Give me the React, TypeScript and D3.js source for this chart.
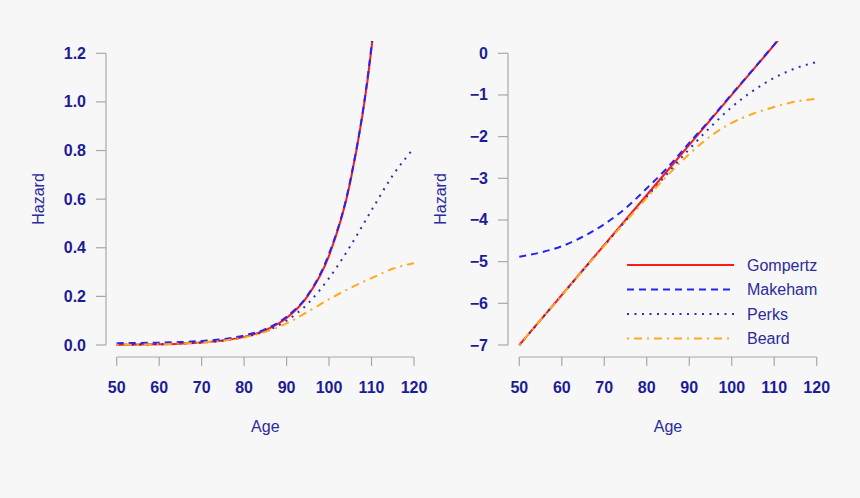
import React from "react";
import * as d3 from "d3";

// Ages (x values)
const ages = [50, 55, 60, 65, 70, 75, 80, 85, 90, 95, 100, 105, 110, 115, 120];
// Log hazard
const gompertzLog = [-7.0, -6.4, -5.8, -5.2, -4.6, -4.0, -3.4, -2.8, -2.2, -1.6, -1.0, -0.4, 0.2, 0.8, 1.4];
const makehamLog = [-4.88, -4.78, -4.63, -4.4, -4.1, -3.72, -3.24, -2.73, -2.15, -1.58, -0.98, -0.39, 0.21, 0.81, 1.4];
const perksLog = [-7.0, -6.4, -5.8, -5.2, -4.61, -4.02, -3.44, -2.87, -2.3, -1.77, -1.29, -0.9, -0.59, -0.36, -0.21];
const beardLog = [-7.0, -6.4, -5.8, -5.21, -4.62, -4.04, -3.47, -2.92, -2.42, -1.99, -1.67, -1.45, -1.29, -1.16, -1.09];

const seriesNames = ["Gompertz", "Makeham", "Perks", "Beard"];
const seriesLogs = [gompertzLog, makehamLog, perksLog, beardLog];
const seriesColors = ["#ff1a1a", "#2424f5", "#3030b0", "#ffaa1a"];
const seriesDash = ["none", "7,5", "2,5.5", "2,5,8,5"];

const xTicks = [50, 60, 70, 80, 90, 100, 110, 120];
const leftYTicks = [0, 0.2, 0.4, 0.6, 0.8, 1.0, 1.2];
const rightYTicks = [0, -1, -2, -3, -4, -5, -6, -7];

const FONT = "'Liberation Sans', Arial, Helvetica, sans-serif";
const TICK_COLOR = "#1c1c96";
const LABEL_COLOR = "#2b2b9e";
const AXIS_COLOR = "#a8a8a8";

type PanelProps = {
  id: string;
  x0: number;
  x1: number;
  axisX: number;
  yDomain: [number, number];
  yTicks: number[];
  fmt: (v: number) => string;
  transform: (v: number) => number;
};

function Panel({ id, x0, x1, axisX, yDomain, yTicks, fmt, transform }: PanelProps) {
  const x = d3.scaleLinear().domain([50, 120]).range([x0, x1]);
  const y = d3.scaleLinear().domain(yDomain).range([345, 53.3]);
  const axisY = 357;
  const clipTop = 41;
  const line = d3
    .line<[number, number]>()
    .x((d) => x(d[0]))
    .y((d) => y(d[1]))
    .curve(d3.curveMonotoneX);
  const cx = (x0 + x1) / 2;
  return (
    <g>
      <defs>
        <clipPath id={id}>
          <rect x={axisX} y={clipTop} width={x1 + 12 - axisX} height={axisY - clipTop} />
        </clipPath>
      </defs>
      {/* y axis */}
      <line x1={axisX} x2={axisX} y1={y(yTicks[yTicks.length - 1] === yDomain[1] ? yDomain[1] : yDomain[1])} y2={y(yDomain[0])} stroke={AXIS_COLOR} strokeWidth={1.2} />
      {yTicks.map((t) => (
        <g key={t}>
          <line x1={axisX - 10} x2={axisX} y1={y(t)} y2={y(t)} stroke={AXIS_COLOR} strokeWidth={1.2} />
          <text
            x={axisX - 20}
            y={y(t)}
            textAnchor="end"
            dominantBaseline="central"
            fontFamily={FONT}
            fontWeight="bold"
            fontSize={16}
            fill={TICK_COLOR}
          >
            {fmt(t)}
          </text>
        </g>
      ))}
      {/* x axis */}
      <line x1={x(50)} x2={x(120)} y1={axisY} y2={axisY} stroke={AXIS_COLOR} strokeWidth={1.2} />
      {xTicks.map((t) => (
        <g key={t}>
          <line x1={x(t)} x2={x(t)} y1={axisY} y2={axisY + 9} stroke={AXIS_COLOR} strokeWidth={1.2} />
          <text
            x={x(t)}
            y={387}
            textAnchor="middle"
            dominantBaseline="central"
            fontFamily={FONT}
            fontWeight="bold"
            fontSize={16}
            fill={TICK_COLOR}
          >
            {t}
          </text>
        </g>
      ))}
      <text x={cx} y={426} textAnchor="middle" dominantBaseline="central" fontFamily={FONT} fontSize={16} fill={LABEL_COLOR}>
        Age
      </text>
      <text
        transform={`translate(${axisX - 68},199) rotate(-90)`}
        textAnchor="middle"
        dominantBaseline="central"
        fontFamily={FONT}
        fontSize={16}
        fill={LABEL_COLOR}
      >
        Hazard
      </text>
      <g clipPath={`url(#${id})`}>
        {seriesLogs.map((vals, i) => (
          <path
            key={seriesNames[i]}
            d={line(ages.map((a, j) => [a, transform(vals[j])]) as [number, number][]) || ""}
            fill="none"
            stroke={seriesColors[i]}
            strokeWidth={2}
            strokeDasharray={seriesDash[i]}
          />
        ))}
      </g>
    </g>
  );
}

export default function App() {
  const legendRows = [265, 289.5, 314, 338.5];
  return (
    <svg
      width={860}
      height={498}
      style={{ position: "absolute", left: 0, top: 0, display: "block" }}
    >
      <rect x={0} y={0} width={860} height={498} fill="#f7f7f7" />
      <Panel
        id="clipL"
        x0={116.7}
        x1={414}
        axisX={106}
        yDomain={[0, 1.2]}
        yTicks={leftYTicks}
        fmt={(v) => v.toFixed(1)}
        transform={(v) => Math.exp(v)}
      />
      <Panel
        id="clipR"
        x0={519.3}
        x1={816.7}
        axisX={508}
        yDomain={[-7, 0]}
        yTicks={rightYTicks}
        fmt={(v) => (v < 0 ? "\u2212" + Math.abs(v) : String(v))}
        transform={(v) => v}
      />
      {seriesNames.map((name, i) => (
        <g key={name}>
          <line
            x1={627}
            x2={734}
            y1={legendRows[i]}
            y2={legendRows[i]}
            stroke={seriesColors[i]}
            strokeWidth={2}
            strokeDasharray={seriesDash[i]}
          />
          <text
            x={747}
            y={legendRows[i]}
            dominantBaseline="central"
            fontFamily={FONT}
            fontSize={16}
            fill={LABEL_COLOR}
          >
            {name}
          </text>
        </g>
      ))}
    </svg>
  );
}
